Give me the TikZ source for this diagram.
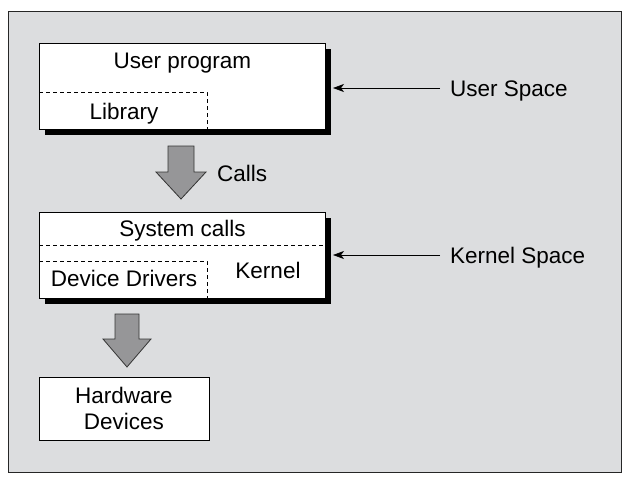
\documentclass[tikz,border=0pt]{standalone}
\usepackage{fontspec}
\setmainfont{Liberation Sans}
\usetikzlibrary{shadows,arrows.meta}

\definecolor{panelgray}{RGB}{220,221,223}
\definecolor{blockgray}{RGB}{150,150,152}

\tikzset{
    layerbox/.style = {draw, fill = white, line width = 0.9pt, inner sep = 0pt,
        minimum width = 286pt, minimum height = 86pt,
        drop shadow = {shadow xshift = 6pt, shadow yshift = -6pt, fill = black, opacity = 1}},
    partline/.style = {line width = 0.7pt, dash pattern = on 4pt off 3pt},
    blockarrow/.style = {fill = blockgray, draw = black!80, line width = 0.8pt, line join = miter},
    thinarrow/.style = {line width = 0.7pt, -{Stealth[length = 11pt, width = 8pt, inset = 3pt]}},
    txt/.style = {anchor = base, inner sep = 0pt},
    spacelabel/.style = {anchor = west, inner xsep = 10pt, inner ysep = 0pt,
        text height = 16pt, text depth = 0pt}
}

\begin{document}
\begin{tikzpicture}[x = 1pt, y = -1pt, font = \fontsize{22.5}{26}\selectfont]
    \useasboundingbox (0,0) rectangle (630,480);
    \node (panel) [draw = black!85, fill = panelgray, line width = 0.8pt, anchor = north west,
        minimum width = 613pt, minimum height = 461pt] at (8,11) {};

    % user space
    \node (userbox) [layerbox] at (182,86) {};
    \draw [partline] (39,92) -- (207,92) -- (207,129);
    \node (userprog) [txt] at (182.5,68) {User program};
    \node (library) [txt] at (124,119) {Library};

    % calls
    \coordinate (callstop) at (181,146);
    \filldraw [blockarrow] (callstop) ++(-13,0) -- ++(26,0) -- ++(0,26) -- ++(12,0)
        -- ++(-25,27) -- ++(-25,-27) -- ++(12,0) -- cycle;
    \node (calls) [txt, anchor = base west] at (217,181) {Calls};

    % kernel space
    \node (kernelbox) [layerbox] at (182,255) {};
    \draw [partline] (39,245) -- (325,245);
    \draw [partline] (39,261) -- (207,261) -- (207,298);
    \node (syscalls) [txt] at (182.5,236) {System calls};
    \node (drivers) [txt] at (124,286) {Device Drivers};
    \node (kernel) [txt] at (268,278) {Kernel};

    % hardware
    \coordinate (drivetop) at (127,314);
    \filldraw [blockarrow] (drivetop) ++(-12,0) -- ++(24,0) -- ++(0,25) -- ++(12,0)
        -- ++(-24,28) -- ++(-24,-28) -- ++(12,0) -- cycle;
    \node (hardware) [draw, fill = white, line width = 0.9pt, align = center,
        minimum width = 170pt, minimum height = 63pt] at (124,408.5) {Hardware\\Devices};

    % labels on the right
    \node (userspace) [spacelabel] at (440,88) {User Space};
    \node (kernelspace) [spacelabel] at (440,255) {Kernel Space};
    \coordinate (userhead) at (333,88);
    \coordinate (kernelhead) at (333,255);
    \draw [thinarrow] (userspace.west) -- (userhead);
    \draw [thinarrow] (kernelspace.west) -- (kernelhead);
\end{tikzpicture}
\end{document}
